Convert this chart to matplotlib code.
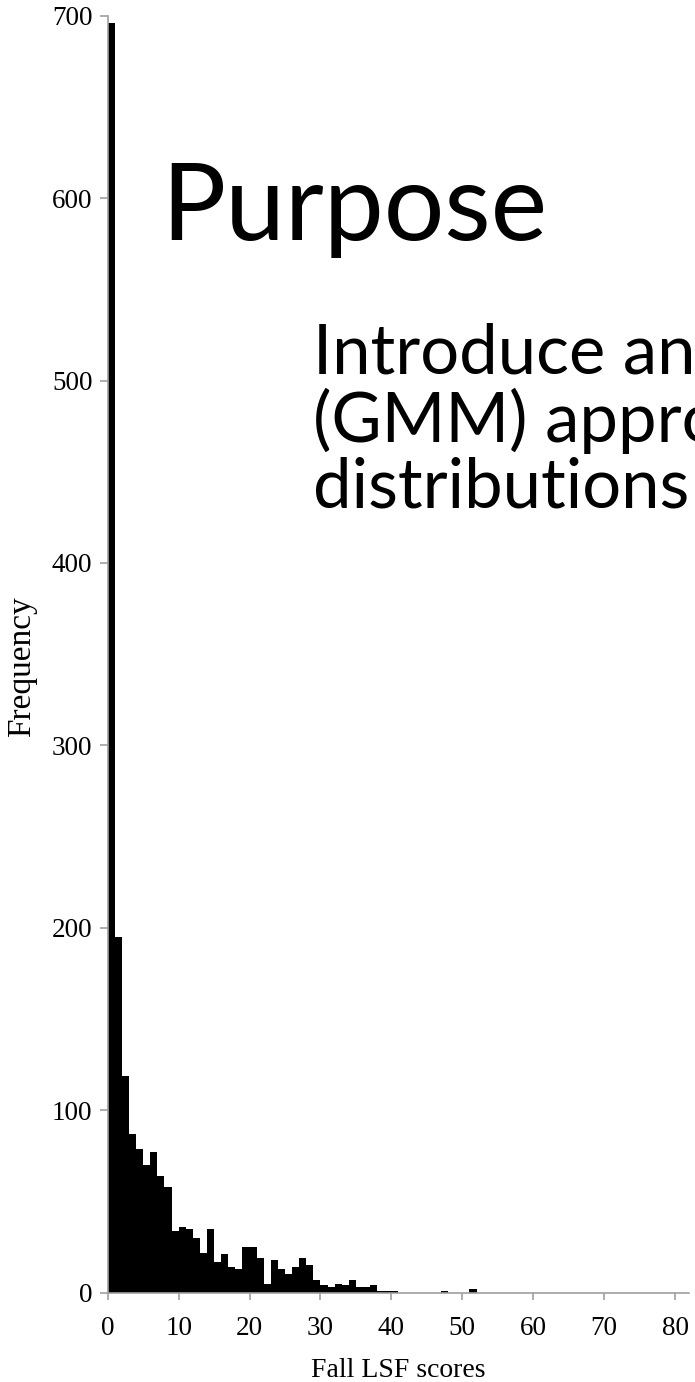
import numpy as np
import matplotlib
matplotlib.use("Agg")
import matplotlib.pyplot as plt

# histogram of Fall LSF scores, one bin per score point
bin_left = np.arange(0, 52)
counts = [696, 195, 119, 87, 79, 70, 77, 64, 58, 34,
          36, 35, 30, 22, 35, 17, 21, 14, 13, 25,
          25, 19, 5, 18, 13, 10, 14, 19, 15, 7,
          4, 3, 5, 4, 7, 3, 3, 4, 1, 1,
          1, 0, 0, 0, 0, 0, 0, 1, 0, 0,
          0, 2]

y_ticks = [0, 100, 200, 300, 400, 500, 600, 700]
x_ticks = [0, 10, 20, 30, 40, 50, 60, 70, 80]

W, H = 695, 1382
fig = plt.figure(figsize=(W / 100, H / 100), dpi=100)
ax = fig.add_axes([107.7 / W, 1 - 1292.7 / H, (689.3 - 107.7) / W, (1292.7 - 15.7) / H])

ax.bar(bin_left, counts, width=1.0, align='edge', color='black', linewidth=0)

ax.set_xlim(0, 82)
ax.set_ylim(0, 700)
ax.set_xticks(x_ticks)
ax.set_yticks(y_ticks)

serif = 'Liberation Serif'
for lab in ax.get_xticklabels() + ax.get_yticklabels():
    lab.set_fontfamily(serif)
    lab.set_fontsize(19.5)

gray = '#a0a0a0'
for s in ['top', 'right']:
    ax.spines[s].set_visible(False)
for s in ['left', 'bottom']:
    ax.spines[s].set_color(gray)
    ax.spines[s].set_linewidth(1.2)
ax.tick_params(axis='both', direction='out', color=gray, width=1.2)
ax.tick_params(axis='y', length=6, pad=5)
ax.tick_params(axis='x', length=5, pad=12)

ax.set_xlabel("Fall LSF scores", fontfamily=serif, fontsize=20, labelpad=12)
ax.set_ylabel("Frequency", fontfamily=serif, fontsize=24)
ax.yaxis.set_label_coords(-0.122, 0.49)

# slide text laid over the chart
sans = 'Lato'
fig.text(161 / W, 1 - 240 / H, "Purpose", fontfamily=sans, fontsize=77,
         ha='left', va='baseline')
lines = ["Introduce an", "(GMM) approach", "distributions"]
baselines = [373, 442, 508]
for txt, b in zip(lines, baselines):
    fig.text(313 / W, 1 - b / H, txt, fontfamily=sans, fontsize=49.5,
             ha='left', va='baseline')

fig.savefig("out.png", dpi=100)
